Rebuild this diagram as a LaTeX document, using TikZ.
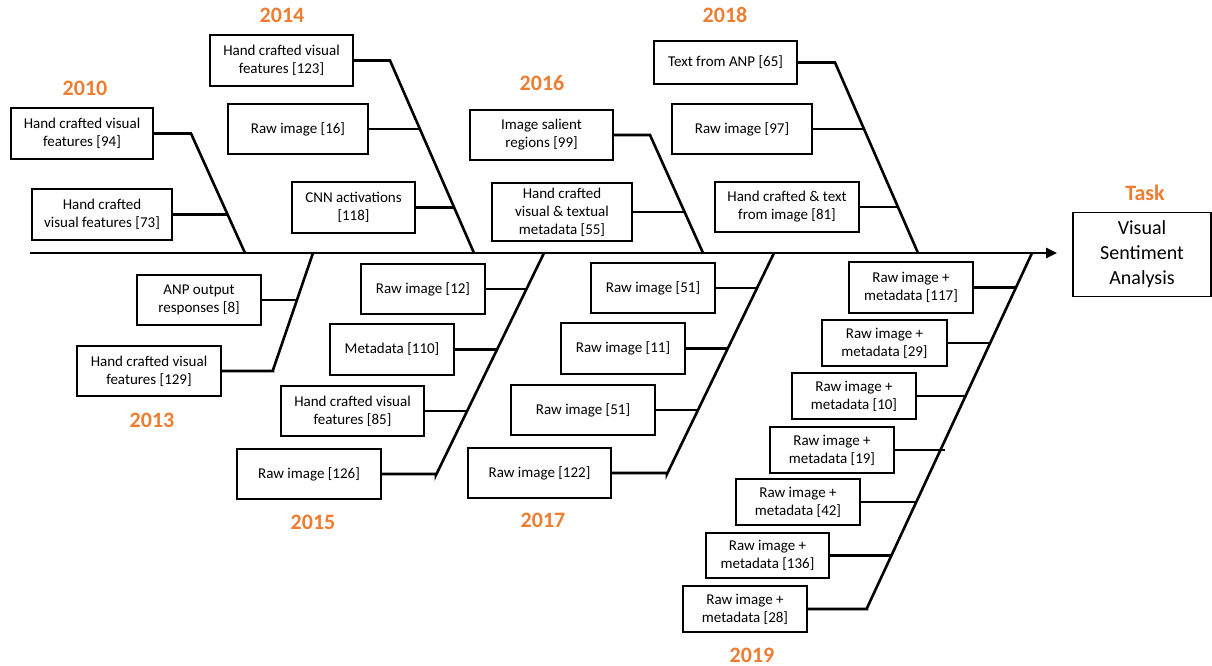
\documentclass[tikz,border=0pt]{standalone}
\usepackage{fontspec}
\setmainfont{Carlito}
\usetikzlibrary{arrows.meta}
\definecolor{yearorange}{HTML}{ED7D31}
\begin{document}
\begin{tikzpicture}[x=1pt,y=-1pt,
  bx/.style={draw, line width=1.2pt, align=center, inner sep=0pt, font=\fontsize{15}{18}\selectfont},
  yr/.style={text=yearorange, font=\fontsize{22}{26}\selectfont\bfseries},
  bone/.style={line width=2.6pt, line join=miter},
]
\useasboundingbox (0,0) rectangle (1212,666);

% spine
\coordinate (sp0) at (30,253);
\coordinate (sp1) at (1057,253);
\draw[bone,-{Triangle[length=11pt,width=10pt]}] (sp0) -- (sp1);

% task
\node[yr] (tasklbl) at (1145,193) {Task};
\node[draw, line width=1.2pt, align=center, inner sep=0pt, minimum width=138pt, minimum height=84pt,
      font=\fontsize{20}{25}\selectfont] (task) at (1142,254.5) {Visual\\Sentiment\\Analysis};

% ---------- year labels
\node[yr] (y2010) at (85,88) {2010};
\node[yr] (y2014) at (282,15) {2014};
\node[yr] (y2016) at (542,83) {2016};
\node[yr] (y2018) at (725,15) {2018};
\node[yr] (y2013) at (152,420) {2013};
\node[yr] (y2015) at (313,522) {2015};
\node[yr] (y2017) at (543,520) {2017};
\node[yr] (y2019) at (752,655) {2019};

% ---------- coordinates on the bones
\coordinate (s10) at (245,253); \coordinate (k10) at (191,134); \coordinate (j73) at (228,215);
\coordinate (s14) at (474,253); \coordinate (k14) at (390,61);  \coordinate (j16) at (420,129); \coordinate (j118) at (454,207);
\coordinate (s16) at (703,253); \coordinate (k16) at (650,135); \coordinate (j55) at (686,216);
\coordinate (s18) at (918,253); \coordinate (k18) at (835,62);  \coordinate (j97) at (864,129); \coordinate (j81) at (898,207);
\coordinate (s13) at (313,253); \coordinate (k13) at (273,370); \coordinate (j8) at (297,300);
\coordinate (s15) at (544,253); \coordinate (k15) at (436,475); \coordinate (j12) at (527,289); \coordinate (j110) at (497,349); \coordinate (j85) at (467,411);
\coordinate (s17) at (774,253); \coordinate (k17) at (667,474); \coordinate (j51a) at (757,289); \coordinate (j11) at (727,349); \coordinate (j51b) at (697,411);
\coordinate (s19) at (1032,253); \coordinate (k19) at (867,608); \coordinate (j117) at (1016,287); \coordinate (j29) at (989,345);
\coordinate (j10) at (966,396); \coordinate (j19) at (945,450); \coordinate (j42) at (915,505); \coordinate (j136) at (891,556);

% ---------- 2010
\node[bx, minimum width=142pt, minimum height=51pt] (b94) at (82,133.5) {Hand crafted visual\\features [94]};
\node[bx, minimum width=140pt, minimum height=51pt] (b73) at (102,214.5) {Hand crafted\\visual features [73]};
\draw[bone] (b94.east) -- (k10 |- b94.east) -- (s10);
\draw[bone] (b73.east) -- (j73 |- b73.east);

% ---------- 2014
\node[bx, minimum width=143pt, minimum height=51pt] (b123) at (281.5,60.5) {Hand crafted visual\\features [123]};
\node[bx, minimum width=140pt, minimum height=50pt] (b16) at (298,129) {Raw image [16]};
\node[bx, minimum width=123pt, minimum height=51pt] (b118) at (353.5,207.5) {CNN activations\\{[118]}};
\draw[bone] (b123.east) -- (k14 |- b123.east) -- (s14);
\draw[bone] (b16.east) -- (j16 |- b16.east);
\draw[bone] (b118.east) -- (j118 |- b118.east);

% ---------- 2016
\node[bx, minimum width=143pt, minimum height=50pt] (b99) at (541.5,135) {Image salient\\regions [99]};
\node[bx, minimum width=140pt, minimum height=58pt] (b55) at (562,212) {Hand crafted\\visual \& textual\\metadata [55]};
\draw[bone] (b99.east) -- (k16 |- b99.east) -- (s16);
\draw[bone] (b55.east) -- (j55 |- b55.east);

% ---------- 2018
\node[bx, minimum width=143pt, minimum height=43pt] (b65) at (725.5,62.5) {Text from ANP [65]};
\node[bx, minimum width=140pt, minimum height=50pt] (b97) at (742,129) {Raw image [97]};
\node[bx, minimum width=144pt, minimum height=50pt] (b81) at (787,207) {Hand crafted \& text\\from image [81]};
\draw[bone] (b65.east) -- (k18 |- b65.east) -- (s18);
\draw[bone] (b97.east) -- (j97 |- b97.east);
\draw[bone] (b81.east) -- (j81 |- b81.east);

% ---------- 2013
\node[bx, minimum width=124pt, minimum height=50pt] (b8) at (199,300) {ANP output\\responses [8]};
\node[bx, minimum width=144pt, minimum height=50pt] (b129) at (149,371) {Hand crafted visual\\features [129]};
\draw[bone] (s13) -- (k13) -- (b129.east -| k13) -- (b129.east);
\draw[bone] (b8.east) -- (j8 |- b8.east);

% ---------- 2015
\node[bx, minimum width=124pt, minimum height=50pt] (b12) at (423,289) {Raw image [12]};
\node[bx, minimum width=124pt, minimum height=51pt] (b110) at (392,349.5) {Metadata [110]};
\node[bx, minimum width=143pt, minimum height=50pt] (b85) at (352.5,411) {Hand crafted visual\\features [85]};
\node[bx, minimum width=144pt, minimum height=50pt] (b126) at (309,474) {Raw image [126]};
\draw[bone] (s15) -- (k15) -- (b126.east -| k15) -- (b126.east);
\draw[bone] (b12.east) -- (j12 |- b12.east);
\draw[bone] (b110.east) -- (j110 |- b110.east);
\draw[bone] (b85.east) -- (j85 |- b85.east);

% ---------- 2017
\node[bx, minimum width=124pt, minimum height=50pt] (b51a) at (653,288) {Raw image [51]};
\node[bx, minimum width=124pt, minimum height=51pt] (b11) at (623,348.5) {Raw image [11]};
\node[bx, minimum width=144pt, minimum height=50pt] (b51b) at (583,410) {Raw image [51]};
\node[bx, minimum width=143pt, minimum height=50pt] (b122) at (539.5,473) {Raw image [122]};
\draw[bone] (s17) -- (k17) -- (b122.east -| k17) -- (b122.east);
\draw[bone] (b51a.east) -- (j51a |- b51a.east);
\draw[bone] (b11.east) -- (j11 |- b11.east);
\draw[bone] (b51b.east) -- (j51b |- b51b.east);

% ---------- 2019
\node[bx, minimum width=124pt, minimum height=51pt] (b117) at (911,287.5) {Raw image +\\metadata [117]};
\node[bx, minimum width=125pt, minimum height=46pt] (b29) at (884.5,343) {Raw image +\\metadata [29]};
\node[bx, minimum width=124pt, minimum height=46pt] (b10) at (854,396) {Raw image +\\metadata [10]};
\node[bx, minimum width=124pt, minimum height=46pt] (b19) at (832,450) {Raw image +\\metadata [19]};
\node[bx, minimum width=124pt, minimum height=46pt] (b42) at (798,502) {Raw image +\\metadata [42]};
\node[bx, minimum width=123pt, minimum height=45pt] (b136) at (767.5,555.5) {Raw image +\\metadata [136]};
\node[bx, minimum width=124pt, minimum height=46pt] (b28) at (745,609) {Raw image +\\metadata [28]};
\draw[bone] (s19) -- (k19) -- (b28.east -| k19) -- (b28.east);
\draw[bone] (b117.east) -- (j117 |- b117.east);
\draw[bone] (b29.east) -- (j29 |- b29.east);
\draw[bone] (b10.east) -- (j10 |- b10.east);
\draw[bone] (b19.east) -- (j19 |- b19.east);
\draw[bone] (b42.east) -- (j42 |- b42.east);
\draw[bone] (b136.east) -- (j136 |- b136.east);
\end{tikzpicture}
\end{document}
